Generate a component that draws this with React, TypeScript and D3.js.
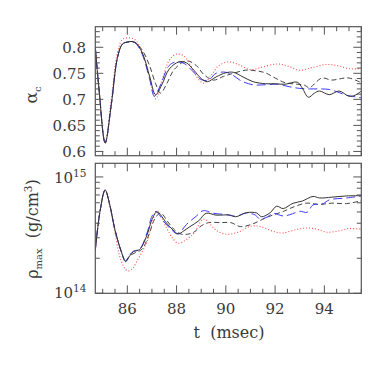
import React from "react";
import * as d3 from "d3";

// time axis (msec)
const tRange = [84.7, 95.5];
const xMajor = [86, 88, 90, 92, 94];

// top panel: alpha_c
const alphaTicks = [0.6, 0.65, 0.7, 0.75, 0.8];

const alphaSolid = [
  [84.7, 0.8], [84.85, 0.72], [85.1, 0.616], [85.35, 0.69], [85.6, 0.78], [85.8, 0.806],
  [86.0, 0.81], [86.3, 0.81], [86.6, 0.79], [86.9, 0.745], [87.15, 0.709], [87.4, 0.728],
  [87.7, 0.758], [88.1, 0.772], [88.4, 0.77], [88.7, 0.756], [89.0, 0.74], [89.25, 0.734],
  [89.6, 0.743], [90.0, 0.751], [90.3, 0.752], [90.7, 0.743], [91.1, 0.734], [91.6, 0.73],
  [92.0, 0.73], [92.4, 0.729], [92.9, 0.733], [93.1, 0.722], [93.35, 0.704], [93.6, 0.712],
  [93.8, 0.716], [94.2, 0.709], [94.6, 0.716], [95.0, 0.706], [95.25, 0.708], [95.5, 0.716],
];
const alphaDashed = [
  [84.7, 0.8], [84.85, 0.72], [85.1, 0.616], [85.35, 0.69], [85.6, 0.78], [85.8, 0.806],
  [86.0, 0.81], [86.3, 0.809], [86.6, 0.795], [86.9, 0.765], [87.15, 0.73], [87.35, 0.712],
  [87.6, 0.73], [87.9, 0.757], [88.4, 0.774], [88.8, 0.765], [89.1, 0.748], [89.5, 0.737],
  [89.9, 0.744], [90.3, 0.75], [90.8, 0.756], [91.2, 0.755], [91.6, 0.751], [92.0, 0.741],
  [92.4, 0.732], [92.9, 0.729], [93.2, 0.727], [93.4, 0.722], [93.6, 0.73], [93.9, 0.741],
  [94.3, 0.737], [94.7, 0.74], [95.0, 0.741], [95.5, 0.732],
];
const alphaBlue = [
  [84.7, 0.8], [84.85, 0.72], [85.1, 0.617], [85.35, 0.69], [85.6, 0.78], [85.8, 0.806],
  [86.0, 0.81], [86.3, 0.809], [86.6, 0.787], [86.9, 0.74], [87.1, 0.706], [87.35, 0.728],
  [87.7, 0.765], [88.0, 0.772], [88.3, 0.769], [88.7, 0.752], [89.0, 0.738], [89.3, 0.737],
  [89.6, 0.75], [90.0, 0.752], [90.3, 0.746], [90.6, 0.736], [91.1, 0.728], [91.6, 0.728],
  [92.1, 0.729], [92.6, 0.724], [93.0, 0.721], [93.4, 0.72], [93.8, 0.72], [94.2, 0.719],
  [94.6, 0.713], [94.9, 0.708], [95.5, 0.703],
];
const alphaRed = [
  [84.7, 0.8], [84.85, 0.72], [85.1, 0.618], [85.35, 0.7], [85.6, 0.79], [85.8, 0.815],
  [86.0, 0.818], [86.3, 0.815], [86.6, 0.792], [86.9, 0.745], [87.15, 0.701], [87.4, 0.735],
  [87.7, 0.775], [88.0, 0.787], [88.3, 0.783], [88.6, 0.762], [88.9, 0.738], [89.1, 0.731],
  [89.4, 0.746], [89.7, 0.764], [90.1, 0.772], [90.5, 0.767], [91.0, 0.757], [91.4, 0.761],
  [92.1, 0.768], [92.5, 0.764], [93.0, 0.756], [93.5, 0.761], [94.1, 0.767], [94.6, 0.764],
  [95.0, 0.759], [95.5, 0.759],
];

// bottom panel: rho_max in units of 1e14 g/cm^3
const rhoSolid = [
  [84.7, 2.36], [84.9, 5.2], [85.1, 7.73], [85.3, 5.6], [85.5, 3.5], [85.75, 2.3],
  [85.93, 1.87], [86.1, 2.1], [86.25, 2.28], [86.5, 2.38], [86.8, 3.17], [87.0, 4.3],
  [87.2, 5.0], [87.6, 4.0], [87.85, 3.5], [88.07, 3.24], [88.3, 3.45], [88.54, 3.74],
  [88.9, 4.2], [89.2, 4.87], [89.6, 4.7], [90.16, 4.71], [90.4, 4.55], [90.84, 4.93],
  [91.25, 4.9], [91.45, 4.55], [91.8, 4.93], [92.06, 5.6], [92.33, 5.35], [92.73, 5.94],
  [93.1, 6.2], [93.54, 6.8], [93.8, 6.6], [94.3, 6.7], [94.9, 6.87], [95.5, 6.9],
];
const rhoDashed = [
  [84.7, 2.36], [84.9, 5.2], [85.1, 7.73], [85.3, 5.6], [85.5, 3.5], [85.75, 2.3],
  [85.93, 1.9], [86.1, 2.1], [86.3, 2.22], [86.6, 2.4], [86.9, 3.3], [87.1, 4.3],
  [87.35, 4.9], [87.65, 4.1], [87.95, 3.45], [88.2, 3.22], [88.45, 3.22], [88.7, 3.35],
  [89.0, 3.8], [89.3, 4.05], [89.8, 4.05], [90.2, 4.05], [90.6, 3.74], [91.1, 3.95],
  [91.5, 4.33], [91.9, 4.7], [92.33, 5.05], [92.73, 5.5], [93.25, 5.95], [93.8, 5.8],
  [94.3, 5.95], [94.9, 5.9], [95.5, 6.25],
];
const rhoBlue = [
  [84.7, 2.36], [84.9, 5.2], [85.1, 7.7], [85.3, 5.6], [85.5, 3.5], [85.75, 2.3],
  [85.93, 1.9], [86.1, 2.15], [86.25, 2.3], [86.5, 2.4], [86.8, 3.3], [87.0, 4.6],
  [87.15, 5.05], [87.5, 4.1], [87.8, 3.5], [88.05, 3.24], [88.4, 3.9], [88.8, 4.6],
  [89.08, 5.13], [89.5, 4.87], [90.0, 4.75], [90.4, 4.6], [90.84, 4.9], [91.2, 4.7],
  [91.38, 4.35], [91.7, 4.55], [91.9, 4.87], [92.33, 4.62], [92.6, 4.74], [93.0, 5.07],
  [93.3, 4.97], [93.54, 5.75], [93.95, 5.9], [94.2, 6.35], [94.9, 6.6], [95.5, 6.85],
];
const rhoRed = [
  [84.7, 2.36], [84.9, 5.2], [85.1, 7.73], [85.3, 5.5], [85.5, 3.3], [85.75, 1.9],
  [86.0, 1.56], [86.2, 1.62], [86.38, 1.87], [86.8, 2.78], [87.0, 3.9], [87.2, 5.13],
  [87.6, 3.62], [87.85, 2.95], [88.07, 2.69], [88.4, 2.9], [88.7, 3.28], [89.1, 4.33],
  [89.6, 3.5], [90.0, 3.22], [90.5, 3.35], [91.0, 3.77], [91.4, 3.75], [91.9, 3.42],
  [92.3, 3.3], [92.9, 3.55], [93.3, 3.64], [93.7, 3.55], [94.1, 3.35], [94.6, 3.45],
  [95.0, 3.6], [95.5, 3.55],
];

const seriesStyles = [
  { key: "dashed", stroke: "#444", dash: "5,3", width: 1 },
  { key: "red", stroke: "#ff4d4d", dash: "1,2", width: 1.1 },
  { key: "blue", stroke: "#3a3aff", dash: "9,4", width: 1 },
  { key: "solid", stroke: "#333", dash: null, width: 1 },
];

const frame = "#555";
const font = "DejaVu Serif";
const ink = "#3a3a3a";

const App = () => {
  const left = 95.3;
  const right = 361.3;
  const top1 = 26.7;
  const bot1 = 155.7;
  const top2 = 163.3;
  const bot2 = 293.3;

  const x = d3.scaleLinear().domain(tRange).range([left, right]);
  const yA = d3.scaleLinear().domain([0.5918, 0.8395]).range([bot1, top1]);
  const yR = d3.scaleLog().domain([1, 13.1]).range([bot2, top2]);

  const alphaData: any = {
    solid: alphaSolid, dashed: alphaDashed, blue: alphaBlue, red: alphaRed,
  };
  const rhoData: any = {
    solid: rhoSolid, dashed: rhoDashed, blue: rhoBlue, red: rhoRed,
  };

  const lineA = d3
    .line<number[]>()
    .x((d) => x(d[0]))
    .y((d) => yA(d[1]))
    .curve(d3.curveCatmullRom.alpha(0.5));
  const lineR = d3
    .line<number[]>()
    .x((d) => x(d[0]))
    .y((d) => yR(d[1]))
    .curve(d3.curveCatmullRom.alpha(0.5));

  const xMinor = d3.range(85, 95.51, 0.5).filter((t) => !xMajor.includes(t));
  const aMinor = d3.range(0.6, 0.835, 0.01).filter(
    (v) => !alphaTicks.some((a) => Math.abs(a - v) < 1e-6)
  );
  const rMinor = [2, 3, 4, 5, 6, 7, 8, 9];

  const xTicks = (y0: number, y1: number, p: string) => (
    <g>
      {xMajor.map((t) => (
        <g key={p + "M" + t}>
          <line x1={x(t)} x2={x(t)} y1={y1} y2={y1 - 8} stroke={frame} />
          <line x1={x(t)} x2={x(t)} y1={y0} y2={y0 + 8} stroke={frame} />
        </g>
      ))}
      {xMinor.map((t) => (
        <g key={p + "m" + t}>
          <line x1={x(t)} x2={x(t)} y1={y1} y2={y1 - 4.5} stroke={frame} />
          <line x1={x(t)} x2={x(t)} y1={y0} y2={y0 + 4.5} stroke={frame} />
        </g>
      ))}
    </g>
  );

  const yTickPair = (y: number, len: number, k: string) => (
    <g key={k}>
      <line x1={left} x2={left + len} y1={y} y2={y} stroke={frame} />
      <line x1={right} x2={right - len} y1={y} y2={y} stroke={frame} />
    </g>
  );

  const clip = (id: string, y0: number, y1: number) => (
    <clipPath id={id}>
      <rect x={left} y={y0} width={right - left} height={y1 - y0} />
    </clipPath>
  );

  return (
    <svg width={388} height={388} style={{ position: "absolute", left: 0, top: 0 }}>
      <rect width={388} height={388} fill="#fff" />
      <defs>
        {clip("c1", top1, bot1)}
        {clip("c2", top2, bot2)}
      </defs>

      {/* top panel */}
      <g clipPath="url(#c1)">
        {seriesStyles.map((s) => (
          <path
            key={"a" + s.key}
            d={lineA(alphaData[s.key]) || ""}
            fill="none"
            stroke={s.stroke}
            strokeWidth={s.width}
            strokeDasharray={s.dash || undefined}
          />
        ))}
      </g>
      {xTicks(top1, bot1, "a")}
      {alphaTicks.map((v) => yTickPair(yA(v), 8, "am" + v))}
      {aMinor.map((v) => yTickPair(yA(v), 4.5, "an" + v))}
      <rect x={left} y={top1} width={right - left} height={bot1 - top1} fill="none" stroke={frame} strokeWidth={1.2} />
      {alphaTicks.map((v) => (
        <text key={"al" + v} x={86} y={yA(v) + 5.5} textAnchor="end" fontFamily={font} fontSize={15} fill={ink}>
          {String(v)}
        </text>
      ))}
      <text transform="translate(37,95) rotate(-90)" textAnchor="middle" fontFamily={font} fontSize={17} fill={ink}>
        α<tspan fontSize={10} dy={4}>c</tspan>
      </text>

      {/* bottom panel */}
      <g clipPath="url(#c2)">
        {seriesStyles.map((s) => (
          <path
            key={"r" + s.key}
            d={lineR(rhoData[s.key]) || ""}
            fill="none"
            stroke={s.stroke}
            strokeWidth={s.width}
            strokeDasharray={s.dash || undefined}
          />
        ))}
      </g>
      {xTicks(top2, bot2, "r")}
      {[1, 10].map((v) => yTickPair(yR(v), 8, "rm" + v))}
      {rMinor.map((v) => yTickPair(yR(v), 4.5, "rn" + v))}
      <rect x={left} y={top2} width={right - left} height={bot2 - top2} fill="none" stroke={frame} strokeWidth={1.2} />
      <text x={54} y={yR(10) + 6} fontFamily={font} fontSize={15} fill={ink}>
        10<tspan fontSize={10.5} dy={-6}>15</tspan>
      </text>
      <text x={54} y={yR(1) + 5} fontFamily={font} fontSize={15} fill={ink}>
        10<tspan fontSize={10.5} dy={-6}>14</tspan>
      </text>
      {xMajor.map((t) => (
        <text key={"xl" + t} x={x(t)} y={313.5} textAnchor="middle" fontFamily={font} fontSize={15} fill={ink}>
          {t}
        </text>
      ))}
      <text x={229} y={338} textAnchor="middle" fontFamily={font} fontSize={16} fill={ink} xmlSpace="preserve">
        t  (msec)
      </text>
      <text transform="translate(38,229) rotate(-90)" textAnchor="middle" fontFamily={font} fontSize={16} fill={ink} xmlSpace="preserve">
        ρ<tspan fontSize={10} dy={4}>max</tspan>
        <tspan dy={-4}>{"  (g/cm"}</tspan>
        <tspan fontSize={10.5} dy={-6}>3</tspan>
        <tspan dy={6}>)</tspan>
      </text>
    </svg>
  );
};

export default App;
